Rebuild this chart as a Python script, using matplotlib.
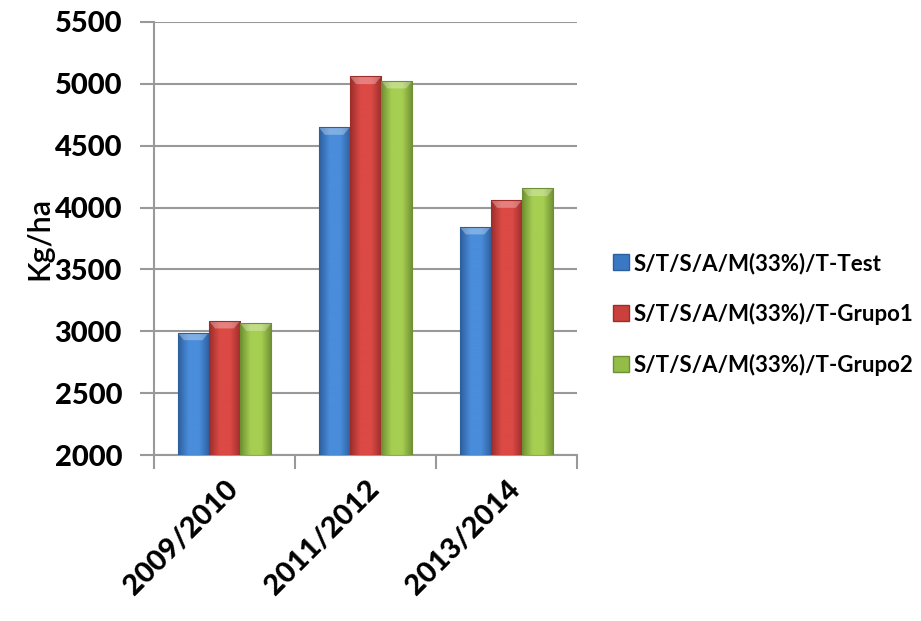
import numpy as np
import matplotlib.pyplot as plt
from matplotlib.colors import LinearSegmentedColormap
from matplotlib.patches import Polygon
from matplotlib.lines import Line2D

seasons = ["2009/2010", "2011/2012", "2013/2014"]
series_names = ["S/T/S/A/M(33%)/T-Test", "S/T/S/A/M(33%)/T-Grupo1", "S/T/S/A/M(33%)/T-Grupo2"]
test_vals = [2990, 4650, 3845]
grupo1_vals = [3085, 5060, 4060]
grupo2_vals = [3065, 5025, 4155]

# (dark edge, light centre) for each series
shades = [("#2c5f9e", "#4a8ddb"), ("#9c2d2b", "#dc4a45"), ("#6f8f33", "#a6cf52")]
base = ["#3b78c4", "#c9403c", "#93bd47"]

plt.rcParams["font.family"] = ["Lato", "DejaVu Sans"]

fig = plt.figure(figsize=(9.21, 6.21), dpi=100)
ax = fig.add_axes([0.1672, 0.2673, 0.4593, 0.6973])

x = np.arange(len(seasons))
w = 0.222
vals = [test_vals, grupo1_vals, grupo2_vals]
ymin, ymax = 2000, 5500
bevel = 62  # top bevel height in data units

for i, (v, (dark, light)) in enumerate(zip(vals, shades)):
    bars = ax.bar(x + (i - 1) * w, np.array(v) - ymin, w, bottom=ymin,
                  color=base[i], edgecolor=dark, linewidth=0.6, zorder=3)
    cmap = LinearSegmentedColormap.from_list("g%d" % i, [dark, light, light, dark])
    grad = np.linspace(0, 1, 64).reshape(1, -1)
    for b in bars:
        x0, y0 = b.get_x(), b.get_y()
        bw, bh = b.get_width(), b.get_height()
        im = ax.imshow(grad, cmap=cmap, aspect="auto", extent=(x0, x0 + bw, y0, y0 + bh),
                       zorder=4, interpolation="bicubic")
        im.set_clip_path(b)
        top = y0 + bh
        # lighter bevel across the top of the bar
        ax.add_patch(Polygon([(x0, top), (x0 + bw, top), (x0 + bw * 0.8, top - bevel),
                              (x0 + bw * 0.2, top - bevel)], closed=True,
                             facecolor="white", alpha=0.3, edgecolor="none", zorder=5))
        ax.plot([x0, x0 + bw, x0 + bw, x0, x0], [y0, y0, top, top, y0],
                color=dark, lw=0.8, zorder=6)

ax.set_xlim(-0.5, len(seasons) - 0.5)
ax.set_ylim(ymin, ymax)
ax.set_yticks(np.arange(2000, 5501, 500))
ax.set_xticks(x)
ax.set_xticklabels(seasons, rotation=45, ha="right", rotation_mode="anchor",
                   fontsize=21, fontweight="black")
ax.set_xticks(np.arange(-0.5, len(seasons)), minor=True)
ax.tick_params(axis="x", which="major", length=0, pad=15)
ax.tick_params(axis="x", which="minor", length=10, width=1.5, color="#999999", direction="out")
ax.tick_params(axis="y", length=10, width=1.5, color="#999999", labelsize=21, pad=13)
plt.setp(ax.get_yticklabels(), fontweight="black")

ax.grid(axis="y", color="#999999", linewidth=1.5, zorder=0)
ax.set_axisbelow(True)
for s in ["top", "right"]:
    ax.spines[s].set_visible(False)
for s in ["left", "bottom"]:
    ax.spines[s].set_color("#999999")
    ax.spines[s].set_linewidth(1.5)

ax.set_ylabel("Kg/ha", fontsize=22, fontweight="semibold", labelpad=1)

handles = [Line2D([0], [0], marker="s", linestyle="none", markersize=11,
                  markerfacecolor=base[i], markeredgecolor=shades[i][0]) for i in range(3)]
leg = fig.legend(handles, series_names, loc="center left", bbox_to_anchor=(0.64, 0.494),
                 frameon=False, prop={"size": 16, "weight": "bold"},
                 handletextpad=0.1, labelspacing=1.3, handlelength=1.0)

fig.savefig("out.png", dpi=100)
